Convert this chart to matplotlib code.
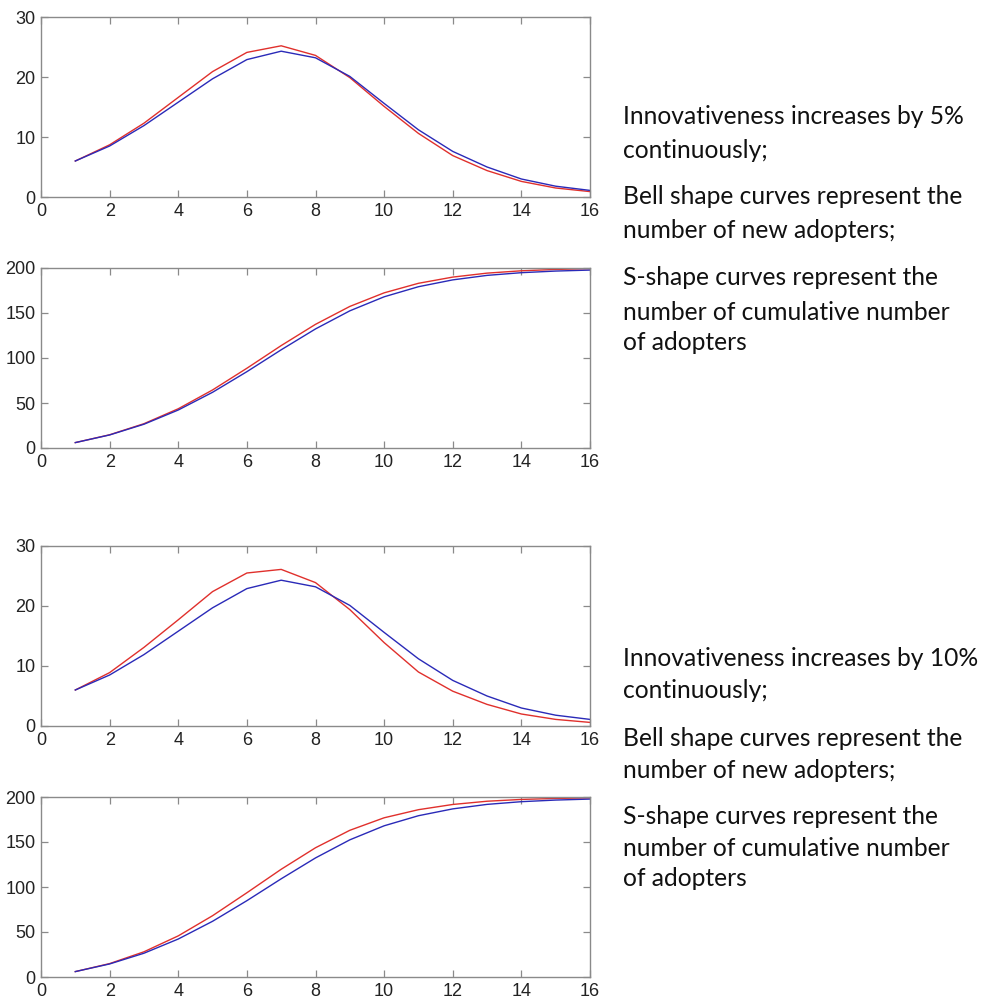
import matplotlib
matplotlib.use("Agg")
import matplotlib.pyplot as plt

# ---------------- data ----------------
periods = list(range(1, 17))

base_new = [6.0, 8.5, 11.9, 15.8, 19.7, 22.9, 24.3, 23.2, 20.1, 15.6, 11.2, 7.6, 5.0, 3.0, 1.8, 1.1]
base_cum = [6.0, 14.5, 26.4, 42.2, 61.9, 84.8, 109.1, 132.3, 152.4, 168.0, 179.2, 186.8, 191.8, 194.8, 196.6, 197.7]

inc5_new = [6.0, 8.7, 12.3, 16.6, 20.9, 24.1, 25.2, 23.6, 19.9, 15.1, 10.6, 6.9, 4.4, 2.6, 1.5, 0.9]
inc5_cum = [6.0, 14.7, 27.0, 43.6, 64.5, 88.6, 113.8, 137.4, 157.3, 172.4, 183.0, 189.9, 194.3, 196.9, 198.4, 199.3]

inc10_new = [6.0, 8.9, 13.1, 17.7, 22.4, 25.5, 26.1, 23.9, 19.4, 13.9, 9.0, 5.8, 3.6, 2.0, 1.1, 0.6]
inc10_cum = [6.0, 14.9, 28.0, 45.7, 68.1, 93.6, 119.7, 143.6, 163.0, 176.9, 185.9, 191.7, 195.3, 197.3, 198.4, 199.0]

x_ticks = [0, 2, 4, 6, 8, 10, 12, 14, 16]
new_ticks = [0, 10, 20, 30]
cum_ticks = [0, 50, 100, 150, 200]

notes_5 = ["Innovativeness increases by 5%", "continuously;",
           "Bell shape curves represent the", "number of new adopters;",
           "S-shape curves represent the", "number of cumulative number",
           "of adopters"]
notes_10 = ["Innovativeness increases by 10%", "continuously;",
            "Bell shape curves represent the", "number of new adopters;",
            "S-shape curves represent the", "number of cumulative number",
            "of adopters"]

# ---------------- figure ----------------
W, H = 981, 1001
fig = plt.figure(figsize=(W / 100, H / 100), dpi=100)
fig.patch.set_facecolor("white")

SPINE = "#8a8a8a"
LABEL = "#222222"
RED = "#e0302c"
BLUE = "#2a2ab8"


def px_axes(top, bottom, left=41, right=590):
    return [left / W, 1 - bottom / H, (right - left) / W, (bottom - top) / H]


def style(ax, yticks, ymax):
    ax.set_xlim(0, 16)
    ax.set_ylim(0, ymax)
    ax.set_xticks(x_ticks)
    ax.set_yticks(yticks)
    ax.tick_params(direction="in", length=5, width=0.9, color=SPINE,
                   labelcolor=LABEL, labelsize=13, top=True, right=True, pad=4)
    for s in ax.spines.values():
        s.set_color(SPINE)
        s.set_linewidth(1.0)
    for lab in ax.get_xticklabels() + ax.get_yticklabels():
        lab.set_fontfamily("Liberation Sans")


panels = [
    (17, 197, inc5_new, base_new, new_ticks, 30),
    (268, 448, inc5_cum, base_cum, cum_ticks, 200),
    (546, 726, inc10_new, base_new, new_ticks, 30),
    (797, 977, inc10_cum, base_cum, cum_ticks, 200),
]
for top, bottom, red_vals, blue_vals, yt, ym in panels:
    ax = fig.add_axes(px_axes(top, bottom))
    ax.plot(periods, red_vals, color=RED, lw=1.0)
    ax.plot(periods, blue_vals, color=BLUE, lw=1.0)
    style(ax, yt, ym)

# ---------------- side notes ----------------
TEXT_FONT = ["Lato", "DejaVu Sans"]
fs = 17.0
# fit font size so that the reference line spans ~339 px
probe = fig.text(0, 0, notes_5[2], fontsize=fs, family=TEXT_FONT)
fig.canvas.draw()
wpx = probe.get_window_extent().width
fs = fs * 339.0 / wpx
probe.remove()

ys_5 = [117, 150, 197, 230, 278, 312, 343]
ys_10 = [658, 690, 739, 770, 817, 848, 878]
for lines, ys in ((notes_5, ys_5), (notes_10, ys_10)):
    for t, y in zip(lines, ys):
        fig.text(623 / W, 1 - y / H, t, fontsize=fs, family=TEXT_FONT,
                 color="#111111", ha="left", va="center")

fig.savefig("out.png", dpi=100, facecolor="white")
